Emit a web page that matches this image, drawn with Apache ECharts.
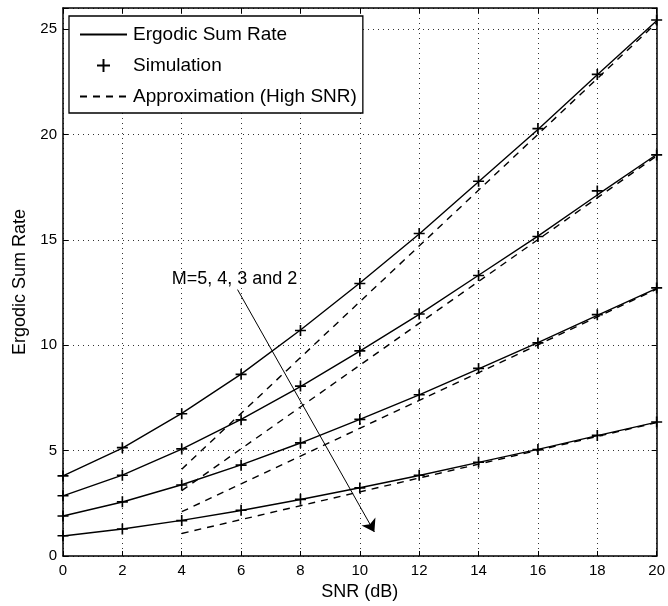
<!DOCTYPE html>
<html>
<head>
<meta charset="utf-8">
<script src="https://cdn.jsdelivr.net/npm/echarts@6/dist/echarts.min.js"></script>
<style>
html,body{margin:0;padding:0;background:#fff;}
#chart{width:668px;height:606px;}
</style>
</head>
<body>
<div id="chart"></div>
<script>
// ---- data ----
const snr = [0, 2, 4, 6, 8, 10, 12, 14, 16, 18, 20];
const xTicks = [0, 2, 4, 6, 8, 10, 12, 14, 16, 18, 20];
const yTicks = [0, 5, 10, 15, 20, 25];

const rateM5 = [3.80, 5.12, 6.77, 8.63, 10.72, 12.95, 15.28, 17.76, 20.24, 22.83, 25.40];
const rateM4 = [2.85, 3.84, 5.07, 6.48, 8.04, 9.72, 11.46, 13.32, 15.18, 17.13, 19.05];
const rateM3 = [1.90, 2.56, 3.38, 4.32, 5.36, 6.48, 7.64, 8.88, 10.12, 11.42, 12.70];
const rateM2 = [0.95, 1.28, 1.69, 2.16, 2.68, 3.24, 3.82, 4.44, 5.06, 5.71, 6.35];

const simM5 = [3.80, 5.14, 6.75, 8.62, 10.70, 12.93, 15.30, 17.78, 20.28, 22.85, 25.43];
const simM4 = [2.86, 3.83, 5.08, 6.46, 8.06, 9.73, 11.48, 13.31, 15.16, 17.32, 19.03];
const simM3 = [1.90, 2.57, 3.37, 4.31, 5.37, 6.48, 7.65, 8.90, 10.11, 11.45, 12.72];
const simM2 = [0.96, 1.28, 1.68, 2.17, 2.69, 3.23, 3.83, 4.45, 5.05, 5.72, 6.36];

const approxX = [4, 20];
const approxM5 = [4.12, 25.30];
const approxM4 = [3.10, 18.98];
const approxM3 = [2.10, 12.66];
const approxM2 = [1.07, 6.33];

const arrowFrom = [5.88, 12.64];
const arrowTo = [10.49, 1.14];
const annotText = 'M=5, 4, 3 and 2';
const annotPos = [3.66, 13.1];

const nameRate = 'Ergodic Sum Rate';
const nameSim = 'Simulation';
const nameApprox = 'Approximation (High SNR)';

// ---- chart ----
const FONT = 'Liberation Sans, Arial, Helvetica, sans-serif';
const plusPath = 'path://M0,4.25 L10,4.25 L10,5.75 L0,5.75 Z M4.25,0 L5.75,0 L5.75,10 L4.25,10 Z';
const zip = (xs, ys) => xs.map((x, i) => [x, ys[i]]);

const chart = echarts.init(document.getElementById('chart'), null, {renderer: 'canvas'});

function solid(data, extra) {
  return Object.assign({
    name: nameRate, type: 'line', data: zip(snr, data), symbol: 'none',
    lineStyle: {color: '#000', width: 1.4}, itemStyle: {color: '#000'}, z: 3, silent: true
  }, extra || {});
}
function sim(data) {
  return {
    name: nameSim, type: 'scatter', data: zip(snr, data), symbol: plusPath, symbolSize: 11,
    itemStyle: {color: '#000', opacity: 1}, z: 4, silent: true
  };
}
function approx(data) {
  return {
    name: nameApprox, type: 'line', data: zip(approxX, data), symbol: 'none',
    lineStyle: {color: '#000', width: 1.4, type: [7, 6]}, itemStyle: {color: '#000'}, z: 2, silent: true
  };
}

const axisCommon = {
  type: 'value',
  axisLine: {show: true, onZero: false, lineStyle: {color: '#000', width: 1.5}},
  axisTick: {show: true, inside: true, length: 5, lineStyle: {color: '#000', width: 1}}
};

const option = {
  animation: false,
  backgroundColor: '#fff',
  textStyle: {fontFamily: FONT},
  grid: {left: 63, right: 10, top: 8, bottom: 50, containLabel: false},
  legend: {
    show: true,
    orient: 'vertical',
    left: 69, top: 16,
    padding: [8, 6, 6, 10],
    itemGap: 10,
    itemWidth: 47,
    itemHeight: 13,
    backgroundColor: '#fff',
    borderColor: '#000',
    borderWidth: 1.3,
    borderRadius: 0,
    selectedMode: false,
    textStyle: {fontFamily: FONT, fontSize: 19, color: '#000', lineHeight: 21, padding: [0, 0, 0, 1]},
    data: [
      {name: nameRate, itemStyle: {opacity: 0, color: 'rgba(0,0,0,0)', borderWidth: 0}},
      {name: nameSim, icon: plusPath},
      {name: nameApprox, itemStyle: {opacity: 0, color: 'rgba(0,0,0,0)', borderWidth: 0}}
    ],
    z: 10
  },
  xAxis: [
    Object.assign({}, axisCommon, {
      min: 0, max: 20, interval: 2, position: 'bottom',
      name: 'SNR (dB)', nameLocation: 'middle', nameGap: 25,
      nameTextStyle: {fontFamily: FONT, fontSize: 18, color: '#000'},
      axisLabel: {show: true, margin: 7, fontFamily: FONT, fontSize: 15, color: '#000',
        formatter: v => (xTicks.indexOf(v) >= 0 ? String(v) : '')},
      splitLine: {show: true, lineStyle: {color: '#333', width: 1, type: [1, 4]}}
    }),
    Object.assign({}, axisCommon, {
      min: 0, max: 20, interval: 2, position: 'top',
      axisLabel: {show: false}, splitLine: {show: false}
    })
  ],
  yAxis: [
    Object.assign({}, axisCommon, {
      min: 0, max: 26, interval: 5, position: 'left',
      name: 'Ergodic Sum Rate', nameLocation: 'middle', nameGap: 28,
      nameTextStyle: {fontFamily: FONT, fontSize: 18, color: '#000'},
      axisLabel: {show: true, margin: 6, fontFamily: FONT, fontSize: 15, color: '#000',
        formatter: v => (yTicks.indexOf(v) >= 0 ? String(v) : '')},
      splitLine: {show: true, lineStyle: {color: '#333', width: 1, type: [1, 4]}}
    }),
    Object.assign({}, axisCommon, {
      min: 0, max: 26, interval: 5, position: 'right',
      axisLabel: {show: false}, splitLine: {show: false}
    })
  ],
  series: [
    solid(rateM5, {
      markLine: {
        silent: true, animation: false,
        symbol: ['none', 'arrow'], symbolSize: 12,
        lineStyle: {color: '#000', width: 1, type: 'solid'},
        label: {show: false},
        data: [[{coord: arrowFrom}, {coord: arrowTo}]]
      }
    }),
    solid(rateM4), solid(rateM3), solid(rateM2),
    sim(simM5), sim(simM4), sim(simM3), sim(simM2),
    approx(approxM5), approx(approxM4), approx(approxM3), approx(approxM2)
  ]
};

chart.setOption(option);

const p = chart.convertToPixel({xAxisIndex: 0, yAxisIndex: 0}, annotPos);
chart.setOption({
  graphic: [{
    type: 'text', left: p[0], top: p[1] - 10, z: 20, silent: true,
    style: {text: annotText, fontFamily: FONT, fontSize: 18, fill: '#000'}
  }]
});
</script>
</body>
</html>
